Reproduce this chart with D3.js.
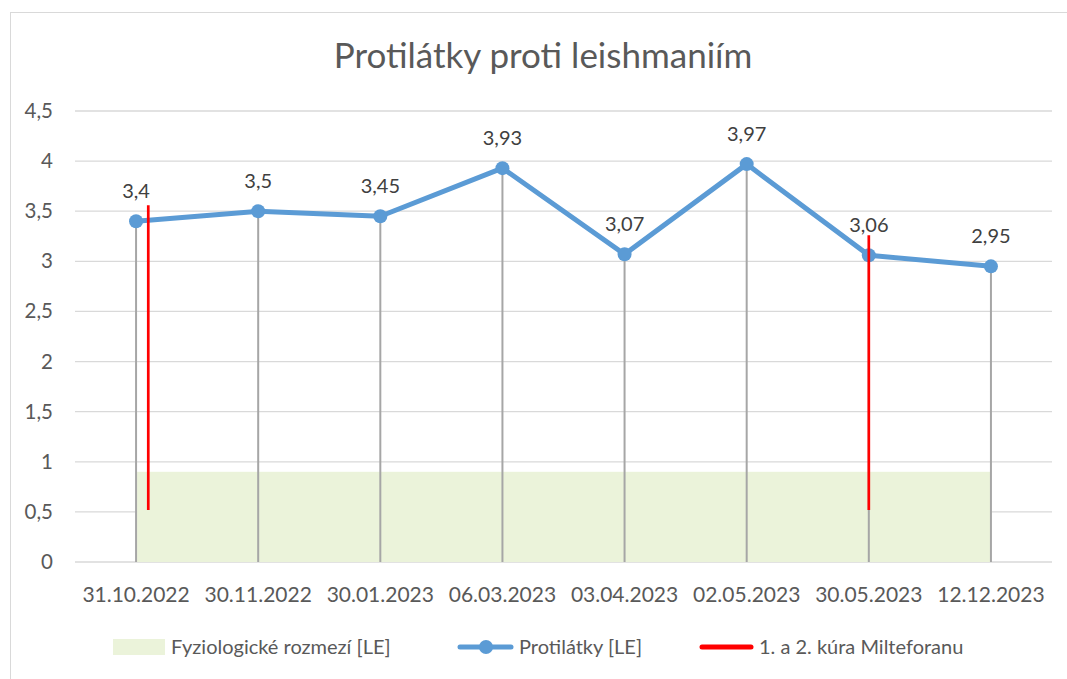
<!DOCTYPE html>
<html><head><meta charset="utf-8">
<script src="https://cdn.jsdelivr.net/npm/d3@7"></script>
<style>body{margin:0;background:#fff}svg{display:block}text{font-family:Lato,"Open Sans",sans-serif}</style>
</head><body><svg id="c" width="1067" height="679"></svg>
<script>
const categories = ["31.10.2022","30.11.2022","30.01.2023","06.03.2023","03.04.2023","02.05.2023","30.05.2023","12.12.2023"];
const antibodies = [3.4,3.5,3.45,3.93,3.07,3.97,3.06,2.95];
const physioRange = [0,0.9];
const treatments = [{cat:"31.10.2022",offset:0.1,low:0.52,high:3.56},{cat:"30.05.2023",offset:0,low:0.52,high:3.26}];
const yTicks = [0,0.5,1,1.5,2,2.5,3,3.5,4,4.5];
const legendItems = ["Fyziologické rozmezí [LE]","Protilátky [LE]","1. a 2. kúra Milteforanu"];

const svg = d3.select("#c");
const fmt = v => String(v).replace(".", ",");
svg.append("rect").attr("x",10.5).attr("y",12.5).attr("width",1100).attr("height",700).attr("fill","none").attr("stroke","#d9d9d9");

const x = d3.scaleBand().domain(categories).range([75,1052]);
const y = d3.scaleLinear().domain([0,4.5]).range([562,111]);
const cx = c => x(c)+x.bandwidth()/2;

svg.append("text").attr("x",543).attr("y",68).attr("text-anchor","middle").attr("font-size",35).attr("fill","#595959").text("Protilátky proti leishmaniím");

// grid
svg.append("g").selectAll("line").data(yTicks).join("line")
  .attr("x1",75).attr("x2",1052).attr("y1",d=>y(d)).attr("y2",d=>y(d))
  .attr("stroke","#d9d9d9").attr("stroke-width",1.3);
svg.append("g").selectAll("text").data(yTicks).join("text")
  .attr("x",53).attr("y",d=>y(d)+7).attr("text-anchor","end").attr("font-size",20.5).attr("fill","#595959").text(d=>fmt(d));

// physiological range area
svg.append("rect").attr("x",cx(categories[0])+1).attr("width",cx(categories[categories.length-1])-cx(categories[0])-1)
  .attr("y",y(physioRange[1])).attr("height",y(physioRange[0])-y(physioRange[1])).attr("fill","#ebf3da");

// drop lines
svg.append("g").selectAll("line").data(antibodies).join("line")
  .attr("x1",(d,i)=>cx(categories[i])).attr("x2",(d,i)=>cx(categories[i]))
  .attr("y1",d=>y(d)).attr("y2",y(0)).attr("stroke","#a6a6a6").attr("stroke-width",2);

// line
const line = d3.line().x((d,i)=>cx(categories[i])).y(d=>y(d));
svg.append("path").datum(antibodies).attr("d",line).attr("fill","none").attr("stroke","#5b9bd5").attr("stroke-width",5).attr("stroke-linejoin","round");
svg.append("g").selectAll("circle").data(antibodies).join("circle")
  .attr("cx",(d,i)=>cx(categories[i])).attr("cy",d=>y(d)).attr("r",7).attr("fill","#5b9bd5");
svg.append("g").selectAll("text").data(antibodies).join("text")
  .attr("x",(d,i)=>cx(categories[i])).attr("y",d=>y(d)-23).attr("text-anchor","middle").attr("font-size",20).attr("fill","#404040").text(d=>fmt(d));

// red treatment lines
svg.append("g").selectAll("line").data(treatments).join("line")
  .attr("x1",d=>cx(d.cat)+d.offset*x.bandwidth()).attr("x2",d=>cx(d.cat)+d.offset*x.bandwidth())
  .attr("y1",d=>y(d.high)).attr("y2",d=>y(d.low)).attr("stroke","#ff0000").attr("stroke-width",2.7);

// x labels
svg.append("g").selectAll("text").data(categories).join("text")
  .attr("x",d=>cx(d)).attr("y",602).attr("text-anchor","middle").attr("font-size",21).attr("fill","#595959").text(d=>d);

// legend
const lg = svg.append("g");
lg.append("rect").attr("x",113).attr("y",639).attr("width",52).attr("height",16).attr("fill","#ebf3da");
lg.append("text").attr("x",171).attr("y",654).attr("font-size",20).attr("fill","#595959").text(legendItems[0]);
lg.append("line").attr("x1",460).attr("x2",511).attr("y1",647).attr("y2",647).attr("stroke","#5b9bd5").attr("stroke-width",5).attr("stroke-linecap","round");
lg.append("circle").attr("cx",486).attr("cy",647).attr("r",7).attr("fill","#5b9bd5");
lg.append("text").attr("x",519).attr("y",654).attr("font-size",20).attr("fill","#595959").text(legendItems[1]);
lg.append("line").attr("x1",702).attr("x2",751).attr("y1",647).attr("y2",647).attr("stroke","#ff0000").attr("stroke-width",5).attr("stroke-linecap","round");
lg.append("text").attr("x",759).attr("y",654).attr("font-size",20).attr("fill","#595959").text(legendItems[2]);
</script></body></html>
